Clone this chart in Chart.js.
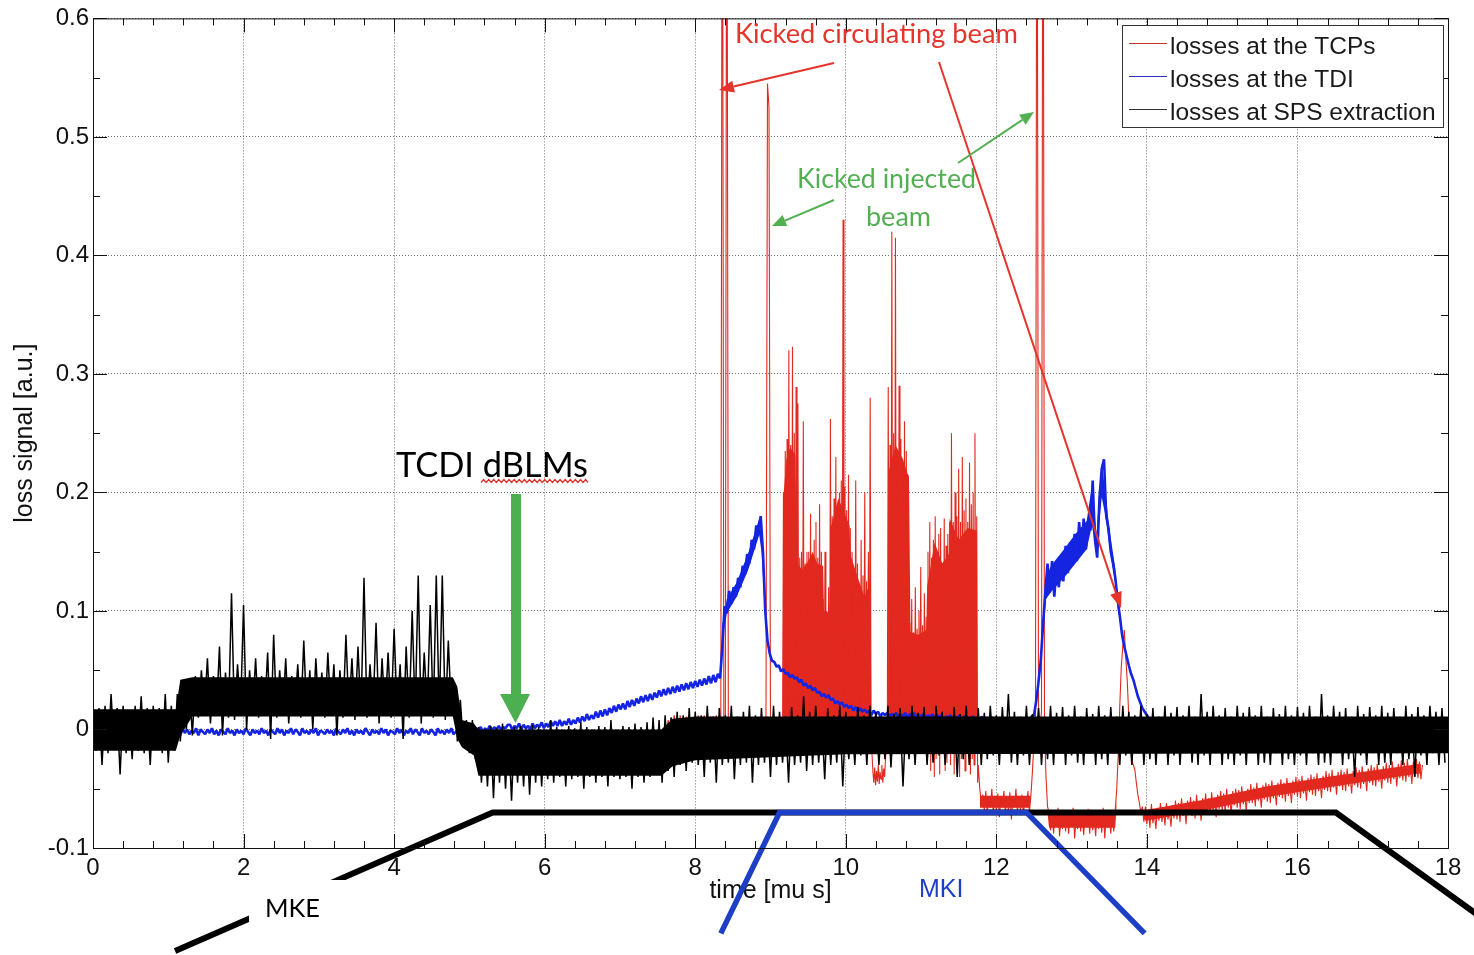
<!DOCTYPE html>
<html><head><meta charset="utf-8">
<script src="https://cdn.jsdelivr.net/npm/chart.js@4/dist/chart.umd.min.js"></script>
<style>html,body{margin:0;padding:0;background:#fff;}canvas{display:block;}</style>
</head><body>
<canvas id="c" width="1474" height="955"></canvas>
<script>
// ===== DATA (loss signal in units of 1e-3 a.u., time in microseconds) =====
const xTickLabels = ['0','2','4','6','8','10','12','14','16','18'];
const yTickLabels = ['-0.1','0','0.1','0.2','0.3','0.4','0.5','0.6'];
const seriesNames = ['losses at the TCPs','losses at the TDI','losses at SPS extraction'];

// losses at SPS extraction (black): spiky trace sampled every 0.04 us from t = 0
const blackStart = 0, blackStep = 0.04;
const blackValues = [
  20,-18,18,-30,20,-20,30,-15,18,-38,
  20,-20,15,-25,20,-18,28,-20,18,-30,
  20,-15,18,-20,30,-28,20,-18,30,-10,
  32,0,40,-5,45,10,50,15,60,5,
  45,12,70,-5,48,10,115,8,55,15,
  105,0,50,12,60,10,45,15,65,-8,
  80,10,50,12,60,5,45,15,55,10,
  75,12,50,0,60,15,48,10,65,12,
  55,-5,50,10,80,15,60,8,70,12,
  128,10,55,15,90,5,60,12,65,10,
  85,15,55,-8,70,10,100,12,130,5,
  65,15,105,10,130,12,130,8,75,15,
  40,-10,25,-15,8,-20,8,-25,2,-45,
  0,-48,3,-58,1,-45,5,-50,0,-60,
  2,-45,3,-48,0,-55,4,-45,2,-48,
  0,-42,8,-45,2,-40,0,-48,3,-42,
  1,-40,6,-50,2,-40,0,-45,3,-40,
  2,-48,8,-40,0,-42,3,-40,2,-50,
  5,-40,2,-45,6,-40,10,-38,8,-45,
  12,-35,10,-40,15,-30,12,-35,18,-28,
  15,-30,12,-40,20,-28,11,-45,18,-30,
  12,-28,20,-42,11,-30,15,-28,20,-45,
  12,-30,18,-28,11,-40,20,-30,15,-28,
  11,-45,19,-30,12,-28,28,-35,15,-30,
  20,-28,11,-42,18,-30,12,-28,20,-48,
  15,-25,11,-30,19,-22,12,-30,20,-20,
  15,-30,11,-25,20,-32,13,-20,18,-48,
  11,-25,20,-30,14,-20,19,-30,11,-28,
  20,-22,15,-30,11,-20,19,-40,13,-25,
  20,-30,11,-20,18,-30,14,-25,20,-22,
  12,-30,19,-20,30,-28,15,-30,11,-22,
  20,-30,13,-19,18,-30,11,-25,20,-30,
  14,-20,19,-30,12,-22,20,-28,11,-30,
  18,-20,13,-30,20,-25,12,-30,19,-20,
  11,-30,20,-22,15,-30,12,-20,20,-30,
  13,-25,18,-30,11,-20,20,-30,14,-22,
  19,-30,12,-20,20,-28,11,-30,30,-22,
  15,-30,20,-20,12,-30,18,-25,11,-30,
  20,-22,14,-30,19,-20,12,-30,20,-28,
  11,-30,18,-20,13,-30,20,-25,12,-30,
  19,-22,14,-30,20,-20,11,-30,30,-28,
  12,-30,20,-20,15,-30,18,-25,11,-40,
  20,-22,13,-30,19,-20,12,-30,20,-28,
  14,-30,18,-20,11,-30,20,-25,13,-40,
  19,-22,12,-30,20,-20,15,-30,18,-28
];
// black: densely filled core of the noise band (time, lower edge, upper edge)
const blackCoreTimes = [0, 1.10, 1.16, 1.32, 4.78, 4.84, 4.90, 5.06, 5.12, 7.55, 7.70, 8.00, 10.0, 18];
const blackCoreLow   = [-18, -18, -5, 11, 11, -8, -15, -22, -39, -39, -31, -26, -21, -20];
const blackCoreHigh  = [17, 17, 42, 44, 44, 36, 8, 5, 0, 0, 9, 11, 11, 11];

// losses at the TDI (blue), sampled every 0.03 us from t = 1.04
const blueStart = 1.04, blueStep = 0.03;
const blueValues = [
  -4,0,-3,-1,-5,1,-3,0,-4,-1,
  -3,1,-5,0,-2,-4,0,-3,1,-4,
  -1,-5,0,-2,-4,1,-3,-1,-5,0,
  -3,-1,-4,1,-2,-5,0,-3,-1,-4,
  1,-3,-1,-5,0,-2,-4,1,-3,0,
  -5,-1,-3,1,-4,0,-2,-5,1,-3,
  -1,-4,0,-3,1,-5,-1,-2,-4,0,
  -3,-1,-5,1,-2,-4,0,-3,1,-4,
  -1,-5,0,-3,-1,-4,1,-2,-5,0,
  -3,-1,-4,1,-3,0,-5,-1,-2,-4,
  1,-3,0,-5,-1,-3,1,-4,0,-2,
  -5,1,-3,-1,-4,0,-2,-5,1,-3,
  -1,-4,0,-3,1,-4,
  -2,1,-3,0,-2,2,-1,-3,1,-2,
  0,2,-2,1,-1,3,-1,2,0,3,
  0,2,1,4,
  4,0,3,1,5,0,4,1,3,0,
  5,1,4,2,6,1,5,2,7,3,
  7,3,8,3,7,4,9,4,8,5,
  10,6,11,7,13,8,12,9,15,10,
  16,11,17,12,18,14,20,15,21,17,
  22,17,24,19,25,20,26,22,28,23,
  29,24,30,25,31,27,33,28,34,29,
  35,30,36,31,37,32,38,33,39,34,
  40,35,41,36,42,37,43,38,45,39,
  46,40,47,43,
  70,104,98,117,106,120,112,128,120,138,
  131,148,140,160,152,172,168,180,150,100,
  75,64,58,
  57,53,54,49,51,47,48,44,46,43,
  44,40,42,37,39,35,37,33,35,31,
  32,28,30,27,29,25,26,22,24,21,
  23,19,21,18,20,16,19,15,18,15,
  17,14,16,12,16,13,15,11,14,12,
  14,11,13,12,14,10,13,11,14,10,
  13,11,14,10,12,11,13,9,12,10,
  13,9,12,10,12,8,11,10,12,8,
  11,9,12,8,11,9,10,8,11,9,
  10,8,11,7,10,9,11,7,10,8,
  10,7,9,8,10,6,9,8,10,7,
  9,7,10,8,11,
  12,24,40,58,88,115,140,118,142,112,
  138,120,146,125,155,132,158,138,165,142,
  175,150,178,152,172,168,210,160,145,195,
  220,228,180,170,150,140,128,110,96,80,
  70,62,54,47,42,35,28,23,18,15,
  12,9,8,6,5,5,4,3,4,3,
  3
];
// blue: thick noisy body of the two humps (time, lower edge, upper edge)
const blueBandTimes = [8.34, 8.36, 8.42, 8.55, 8.70, 8.80, 8.85, 8.88, 8.93, 8.96, 9.00, 9.02, 12.60, 12.62, 12.66, 12.75, 12.90, 13.05, 13.20, 13.27, 13.33, 13.40, 13.45, 13.50, 13.58, 13.62, 13.64];
const blueBandLow    = [45, 76, 98, 112, 134, 154, 164, 150, 95, 72, 58, 57, 57, 80, 110, 118, 128, 140, 152, 172, 150, 196, 180, 155, 124, 98, 95];
const blueBandHigh   = [45, 88, 110, 124, 148, 168, 178, 165, 103, 76, 60, 57, 57, 92, 130, 140, 152, 165, 176, 206, 165, 224, 200, 170, 136, 106, 95];

// losses at the TCPs (red), three sampled stretches
const redAStart = 7.60, redAStep = 0.02;
const redAValues = [
  5,0,8,2,10,0,12,3,9,0,12,2,8,0,11,3,12,1,9,
  0,10,2,12,0,9,3,12,0,10,2,11,0,9,3,12,1,10,2,
  900,0,5,900,0,
  3,0,5,-2,4,0,6,-3,2,0,5,-2,3,0,4,-3,5,0,2,-2,6,0,3,-1,
  5,545,525,0,
  4,-2,5,0,3,-3,2
];
const redBStart = 9.16, redBStep = 0.012;
const redBValues = [
  -10,200,0,235,-15,245,5,320,-12,240,
  0,323,-10,250,3,289,-5,275,0,145,
  -12,150,2,260,-8,140,0,150,0,150,
  -10,182,3,145,-5,160,0,175,-12,145,
  2,190,-5,150,0,110,0,150,-8,100,
  2,120,-5,262,0,180,-10,195,2,230,
  -6,175,0,200,-12,210,3,430,-4,205,
  0,185,-10,215,2,170,-5,150,0,120,
  -10,210,2,140,-6,115,0,160,-12,130,
  3,200,-4,125,0,150,-8,280,-15,-20,
  -35,-45,-32,-47,-35,-44,-30,-46,-36,-42,
  -30,-45,-33,-40,-25,-10,0,289,-10,240,
  2,420,-5,250,0,415,-12,230,3,290,
  -6,245,0,220,-10,260,2,235,-5,215,
  0,90,-5,110,0,82,-10,120,2,85,
  -8,100,0,137,-12,88,3,115,-6,95,
  0,150,-20,175,-35,145,-10,160,-40,180,
  -25,150,-5,165,-38,170,-20,140,-10,178,
  -35,155,-28,165,-15,175,-30,250,-10,175,
  -38,200,-20,180,-5,220,-40,175,-25,230,
  -12,185,-35,195,-20,175,-8,225,-38,190,
  -25,200,-30,250,-15,180,-45
];
const redCStart = 11.76, redCStep = 0.02;
const redCValues = [
  -30,-50,-62,
  -55,-68,-52,-70,-58,-66,-50,-72,-56,-68,
  -54,-74,-58,-66,-52,-70,-57,-69,-53,-76,
  -58,-66,-50,-70,-56,-68,-55,-72,-58,-65,
  -52,-70,
  -55,-35,-10,10,900,20,0,15,900,0,-40,-65,
  -70,-85,-68,-88,-72,-82,-66,-90,-74,-84,
  -68,-86,-70,-88,-72,-80,-66,-92,-75,-84,
  -68,-86,-71,-89,-73,-82,-67,-88,-70,-85,
  -74,-90,-68,-84,-72,-87,-66,-92,-73,-83,
  -69,-88,-71,-86,-68,
  -50,-20,20,53,70,84,60,40,10,-15,
  -26,-30,-34,-45,-55,-62,-70,-65,-78,
  -65,-80,-68,-83,-63,-79,-71,-84,-66,-77,
  -62,-78,-67,-81,-62,-76,-69,-82,-64,-75,
  -60,-76,-62,-78,-58,-73,-65,-80,-60,-72,
  -57,-73,-60,-75,-55,-71,-62,-77,-58,-69,
  -54,-70,-58,-72,-53,-68,-60,-74,-55,-67,
  -52,-68,-54,-70,-50,-66,-57,-71,-52,-64,
  -50,-66,-51,-67,-48,-63,-55,-69,-50,-62,
  -46,-62,-49,-65,-45,-60,-52,-66,-47,-59,
  -45,-61,-46,-62,-43,-58,-50,-64,-45,-57,
  -42,-58,-45,-61,-41,-56,-48,-62,-43,-55,
  -40,-57,-42,-58,-39,-54,-46,-60,-41,-53,
  -38,-55,-40,-56,-37,-52,-44,-58,-39,-51,
  -35,-52,-37,-53,-34,-49,-41,-55,-36,-48,
  -34,-51,-36,-52,-33,-48,-40,-54,-35,-47,
  -32,-49,-34,-50,-31,-46,-38,-52,-33,-45,
  -30,-47,-32,-48,-29,-44,-36,-50,-31,-43,
  -28,-45,-30,-46,-27,-42,-34,-48,-29,-41,
  -26,-43,-28,-44,-25,-40,-32,-46,-27,-39,
  -25,-41,-27,-42,-30
];
// red: solid body of the injection bursts (time, top of solid fill)
const redBurstTimes = [9.16, 9.17, 9.21, 9.26, 9.33, 9.35, 9.42, 9.50, 9.56, 9.62, 9.70, 9.71, 9.78, 9.79, 9.90, 9.97, 10.05, 10.06, 10.16, 10.25, 10.33, 10.34, 10.56, 10.57, 10.66, 10.76, 10.84, 10.86, 10.96, 11.07, 11.08, 11.18, 11.28, 11.37, 11.38, 11.50, 11.62, 11.74, 11.75];
const redBurstTop   = [0, 195, 228, 238, 232, 140, 135, 142, 150, 140, 138, 100, 98, 168, 195, 185, 172, 148, 128, 112, 125, 0, 0, 218, 240, 228, 212, 82, 80, 84, 120, 158, 140, 148, 178, 160, 170, 168, 0];
// red: dense part of the negative noise band (time, lower edge, upper edge)
const redBandTimes = [11.78, 12.44, 12.46, 12.68, 12.70, 13.58, 13.60, 13.96, 13.98, 14.7, 15.6, 16.5, 17.64];
const redBandLow   = [-66, -66, -56, -70, -83, -83, -60, -75, -77, -69, -57, -48, -37];
const redBandHigh  = [-56, -56, -56, -70, -71, -71, -60, -75, -68, -60, -48, -39, -29];

// kicker waveform sketches (time, level)
const mkeTimes = [1.09, 5.31, 16.51, 18.56];
const mkeLevels = [-187, -70, -70, -164];
const mkiTimes = [8.34, 9.12, 12.40, 13.97];
const mkiLevels = [-172, -70, -70, -172];

// ===== BUILD =====
function sampled(start, step, values) {
  return values.map((v, i) => ({x: +(start + i * step).toFixed(4), y: v}));
}
function paired(ts, vs) { return ts.map((t, i) => ({x: t, y: vs[i]})); }

const COL = {red: '#e2291f', blue: '#1424e0', black: '#000000', mki: '#1c3fc6', green: '#4caf50'};
const redPts = [].concat(sampled(redAStart, redAStep, redAValues), sampled(redBStart, redBStep, redBValues), sampled(redCStart, redCStep, redCValues));
const bluePts = sampled(blueStart, blueStep, blueValues);
const blackPts = sampled(blackStart, blackStep, blackValues);

function arrow(ctx, x1, y1, x2, y2, color, w, hl, hw) {
  const a = Math.atan2(y2 - y1, x2 - x1);
  const bx = x2 - hl * Math.cos(a), by = y2 - hl * Math.sin(a);
  ctx.strokeStyle = color; ctx.lineWidth = w; ctx.lineCap = 'butt';
  ctx.beginPath(); ctx.moveTo(x1, y1); ctx.lineTo(bx, by); ctx.stroke();
  ctx.fillStyle = color; ctx.beginPath();
  ctx.moveTo(x2, y2);
  ctx.lineTo(bx + hw * Math.sin(a), by - hw * Math.cos(a));
  ctx.lineTo(bx - hw * Math.sin(a), by + hw * Math.cos(a));
  ctx.closePath(); ctx.fill();
}
function fitText(ctx, text, family, left, right, baseline, color) {
  ctx.font = '100px ' + family;
  const w = ctx.measureText(text).width;
  const size = 100 * (right - left) / w;
  ctx.font = size.toFixed(2) + 'px ' + family;
  ctx.fillStyle = color; ctx.textAlign = 'left'; ctx.textBaseline = 'alphabetic';
  ctx.fillText(text, left, baseline);
}

const overlay = {
  id: 'overlay',
  afterDraw(chart) {
    const {ctx, chartArea: a, scales: {x, y}} = chart;
    ctx.save();
    ctx.strokeStyle = '#111'; ctx.lineWidth = 1; ctx.setLineDash([]);
    ctx.strokeRect(a.left + 0.5, a.top + 0.5, a.right - a.left, a.bottom - a.top);
    ctx.beginPath();
    for (let k = 0; k <= 45; k++) {
      const px = Math.round(x.getPixelForValue(k * 0.4)) + 0.5;
      const L = (k % 5 === 0) ? 14 : 7;
      ctx.moveTo(px, a.bottom); ctx.lineTo(px, a.bottom - L);
      ctx.moveTo(px, a.top); ctx.lineTo(px, a.top + L);
    }
    for (let k = 0; k <= 14; k++) {
      const py = Math.round(y.getPixelForValue(-100 + k * 50)) + 0.5;
      const L = (k % 2 === 0) ? 14 : 7;
      ctx.moveTo(a.left, py); ctx.lineTo(a.left + L, py);
      ctx.moveTo(a.right, py); ctx.lineTo(a.right - L, py);
    }
    ctx.stroke();

    // legend
    const lx = 1122, ly = 25, lw = 321, lh = 102;
    ctx.fillStyle = '#fff'; ctx.fillRect(lx, ly, lw, lh);
    ctx.strokeStyle = '#333'; ctx.strokeRect(lx + 0.5, ly + 0.5, lw, lh);
    const legCols = ['#c8332e', '#2a2ec0', '#333333'];
    const rowsY = [43.5, 76.5, 109.5];
    ctx.font = '24.5px "Liberation Sans", Arial, sans-serif';
    ctx.textAlign = 'left'; ctx.textBaseline = 'alphabetic';
    for (let i = 0; i < 3; i++) {
      ctx.strokeStyle = legCols[i]; ctx.lineWidth = 1;
      ctx.beginPath(); ctx.moveTo(1129, rowsY[i]); ctx.lineTo(1167, rowsY[i]); ctx.stroke();
      ctx.fillStyle = '#1a1a1a';
      ctx.fillText(seriesNames[i], 1170, rowsY[i] + 10.5);
    }

    // annotations
    const lato = 'Lato, "Open Sans", sans-serif';
    fitText(ctx, 'Kicked circulating beam', lato, 735, 1018, 42.5, '#e4342b');
    arrow(ctx, 834, 63, 719, 90, '#e4342b', 2, 15, 6);
    arrow(ctx, 939, 62, 1121, 608, '#e4342b', 2, 16, 6);
    fitText(ctx, 'Kicked injected', lato, 797, 976, 188, '#52b052');
    fitText(ctx, 'beam', lato, 866, 931, 225.5, '#52b052');
    arrow(ctx, 834, 200, 772, 226, '#52b052', 2, 14, 6);
    arrow(ctx, 958, 163, 1034, 112, '#52b052', 2, 14, 6);

    fitText(ctx, 'TCDI dBLMs', lato, 396, 588, 476.5, '#000');
    ctx.strokeStyle = '#e0302a'; ctx.lineWidth = 1.2; ctx.beginPath();
    for (let i = 0; i <= 42; i++) { const sx = 481 + i * 2.55; const sy = (i % 2) ? 479.5 : 482.5; if (i === 0) ctx.moveTo(sx, sy); else ctx.lineTo(sx, sy); }
    ctx.stroke();
    ctx.fillStyle = COL.green;
    ctx.fillRect(511, 494, 10, 201);
    ctx.beginPath(); ctx.moveTo(500, 694); ctx.lineTo(530, 694); ctx.lineTo(515.5, 723); ctx.closePath(); ctx.fill();

    ctx.fillStyle = '#fff'; ctx.fillRect(249, 880, 96, 62);
    fitText(ctx, 'MKE', lato, 265, 320, 916.5, '#000');
    ctx.font = '25px "Liberation Sans", Arial, sans-serif';
    ctx.fillStyle = COL.mki; ctx.textAlign = 'left'; ctx.textBaseline = 'alphabetic';
    ctx.fillText('MKI', 919, 896.5);
    ctx.restore();
  }
};

Chart.defaults.font.family = '"Liberation Sans", Arial, sans-serif';
Chart.defaults.color = '#111';

const NONE = 'rgba(0,0,0,0)';
function band(label, ts, vs, order, fill, color) {
  return {label, data: paired(ts, vs), borderColor: NONE, borderWidth: 0, pointRadius: 0, order, fill, backgroundColor: color || NONE};
}
new Chart(document.getElementById('c'), {
  type: 'line',
  data: {
    datasets: [
      /*0*/ {label: 'MKI', data: paired(mkiTimes, mkiLevels), borderColor: COL.mki, borderWidth: 5.5, pointRadius: 0, clip: false, order: 0, borderJoinStyle: 'miter', fill: false},
      /*1*/ {label: 'MKE', data: paired(mkeTimes, mkeLevels), borderColor: '#000', borderWidth: 6, pointRadius: 0, clip: false, order: 1, borderJoinStyle: 'miter', fill: false},
      /*2*/ {label: seriesNames[2], data: blackPts, borderColor: COL.black, borderWidth: 1.5, pointRadius: 0, order: 2, borderJoinStyle: 'bevel', fill: false},
      /*3*/ band('black core low', blackCoreTimes, blackCoreLow, 3, false),
      /*4*/ band('black core high', blackCoreTimes, blackCoreHigh, 3, 3, '#000'),
      /*5*/ {label: seriesNames[1], data: bluePts, borderColor: COL.blue, borderWidth: 2.6, pointRadius: 0, order: 5, borderJoinStyle: 'bevel', fill: false},
      /*6*/ band('blue band low', blueBandTimes, blueBandLow, 6, false),
      /*7*/ band('blue band high', blueBandTimes, blueBandHigh, 6, 6, COL.blue),
      /*8*/ {label: seriesNames[0], data: redPts, borderColor: COL.red, borderWidth: 1.1, pointRadius: 0, order: 8, borderJoinStyle: 'bevel', fill: false},
      /*9*/ band('red bursts', redBurstTimes, redBurstTop, 9, {value: 0}, COL.red),
      /*10*/ band('red band low', redBandTimes, redBandLow, 9, false),
      /*11*/ band('red band high', redBandTimes, redBandHigh, 9, 10, COL.red)
    ]
  },
  options: {
    responsive: false, animation: false, devicePixelRatio: 1, events: [],
    layout: {padding: {left: 0, right: 26, top: 18, bottom: 0}},
    plugins: {legend: {display: false}, tooltip: {enabled: false}},
    elements: {line: {tension: 0}},
    scales: {
      x: {
        type: 'linear', min: 0, max: 18,
        ticks: {stepSize: 2, padding: 6, maxRotation: 0, font: {size: 24}, color: '#111',
          callback: (v) => xTickLabels[Math.round(v / 2)]},
        grid: {color: '#6e6e6e', lineWidth: 1, drawTicks: false},
        border: {display: false, dash: [1, 2]},
        title: {display: true, text: 'time [mu s]', font: {size: 25}, color: '#111', padding: {top: 0, bottom: 49}},
        afterFit: (s) => { s.height = 107; }
      },
      y: {
        type: 'linear', min: -100, max: 600,
        ticks: {stepSize: 100, padding: 4, font: {size: 24}, color: '#111',
          callback: (v) => yTickLabels[Math.round((v + 100) / 100)]},
        grid: {color: '#6e6e6e', lineWidth: 1, drawTicks: false},
        border: {display: false, dash: [1, 2]},
        title: {display: true, text: 'loss signal [a.u.]', font: {size: 25}, color: '#111', padding: {top: 10, bottom: 0}},
        afterFit: (s) => { s.width = 93; }
      }
    }
  },
  plugins: [overlay]
});
</script>
</body></html>
